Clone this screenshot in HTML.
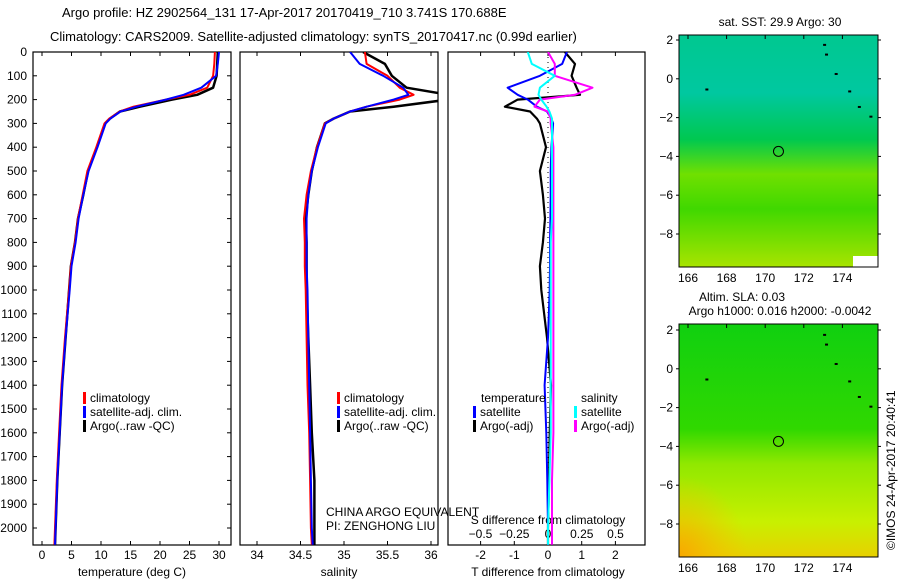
<!DOCTYPE html>
<html><head><meta charset="utf-8">
<style>
html,body{margin:0;padding:0;background:#fff;}
svg{display:block;font-family:"Liberation Sans",sans-serif;}
text{fill:#000;}
</style></head>
<body>
<svg id="chart" width="900" height="580" viewBox="0 0 900 580" xmlns="http://www.w3.org/2000/svg">
<defs>
<linearGradient id="sstGrad" x1="0" y1="0" x2="0" y2="1">
<stop offset="0" stop-color="#00c890"/><stop offset="0.25" stop-color="#00c8a0"/>
<stop offset="0.45" stop-color="#00c850"/><stop offset="0.6" stop-color="#70e000"/>
<stop offset="0.75" stop-color="#40d800"/><stop offset="1" stop-color="#a8e400"/>
</linearGradient>
<linearGradient id="slaGrad" x1="0" y1="0" x2="0" y2="1">
<stop offset="0" stop-color="#10d010"/><stop offset="0.45" stop-color="#30d800"/>
<stop offset="0.6" stop-color="#90e800"/><stop offset="0.85" stop-color="#c8f000"/>
<stop offset="1" stop-color="#e8d000"/>
</linearGradient>
<radialGradient id="slaCorner" cx="0" cy="1" r="0.35">
<stop offset="0" stop-color="#f8a800"/><stop offset="1" stop-color="#f8c000" stop-opacity="0"/>
</radialGradient>
</defs>
<text x="62" y="17" font-size="13">Argo profile: HZ 2902564_131 17-Apr-2017 20170419_710 3.741S 170.688E</text>
<text x="50" y="41" font-size="13">Climatology: CARS2009. Satellite-adjusted climatology: synTS_20170417.nc (0.99d earlier)</text>
<g id="g"></g>
</svg>
<script>
// depth levels (m)
const depths = [0,50,100,150,180,200,230,250,280,300,400,500,600,700,800,900,1000,1200,1400,1600,1800,2000,2070];
// temperature (deg C)
const tempClim = [29.3,29.2,29.0,28.0,25.0,21.0,15.5,13.2,11.4,10.6,9.2,7.7,6.9,6.1,5.6,4.9,4.6,3.9,3.3,2.9,2.5,2.2,2.1];
const tempSat  = [30.0,29.8,29.5,27.0,24.0,21.0,16.0,13.3,11.6,10.8,9.4,7.9,7.0,6.2,5.7,5.0,4.7,4.0,3.4,3.0,2.6,2.3,2.2];
const tempArgo = [29.8,29.7,29.6,29.0,26.3,22.0,16.6,13.2,11.5,10.7,9.3,7.8,7.0,6.1,5.6,4.9,4.6,4.0,3.4,3.0,2.6,2.3,2.2];
// salinity
const salClim = [35.24,35.26,35.50,35.64,35.80,35.64,35.26,35.07,34.88,34.78,34.69,34.62,34.57,34.54,34.55,34.55,34.56,34.57,34.58,34.60,34.61,34.62,34.63];
const salSat  = [35.07,35.18,35.45,35.68,35.74,35.57,35.26,35.07,34.88,34.79,34.70,34.63,34.59,34.57,34.57,34.57,34.58,34.59,34.60,34.61,34.62,34.63,34.64];
const salArgo = [35.22,35.47,35.55,35.72,36.20,36.20,35.57,35.07,34.88,34.78,34.69,34.63,34.59,34.56,34.57,34.57,34.57,34.59,34.61,34.63,34.66,34.66,34.66];
// differences from climatology
const dTSat  = [0.56,0.42,-0.24,-1.2,-0.9,-0.6,-0.33,-0.03,0.1,0.15,0.1,0.08,0.08,0.07,0.06,0.06,0.05,0.0,-0.1,-0.05,-0.02,0.0,0.0];
const dTArgo = [0.5,0.8,0.7,0.85,0.95,-0.9,-1.28,-0.53,-0.33,-0.24,-0.06,-0.24,-0.15,-0.09,-0.15,-0.24,-0.2,-0.03,0.09,0.05,0.03,0.0,0.0];
const dSSat  = [-0.15,-0.12,0.05,-0.06,-0.07,-0.05,-0.01,0.01,0.03,0.03,0.03,0.03,0.03,0.03,0.02,0.02,0.02,0.02,0.02,0.02,0.01,0.0,0.0];
const dSArgo = [0.0,0.05,0.05,0.33,0.2,-0.06,-0.1,0.0,0.02,0.02,0.04,0.04,0.04,0.04,0.04,0.04,0.04,0.04,0.04,0.04,0.03,0.03,0.03];
// ticks
const depthTicks = [0,100,200,300,400,500,600,700,800,900,1000,1100,1200,1300,1400,1500,1600,1700,1800,1900,2000];
const tempTicks = [0,5,10,15,20,25,30];
const salTicks = [34,34.5,35,35.5,36];
const salTickLabels = ["34","34.5","35","35.5","36"];
const dTTicks = [-2,-1,0,1,2];
const dSTicks = [-0.5,-0.25,0,0.25,0.5];
const dSTickLabels = ["\u22120.5","\u22120.25","0","0.25","0.5"];
const lonTicks = [166,168,170,172,174];
const latTicks = [2,0,-2,-4,-6,-8];
const argoLon = 170.688, argoLat = -3.741;

const NS="http://www.w3.org/2000/svg";
const G=document.getElementById('g');
function el(tag,attrs,parent){const e=document.createElementNS(NS,tag);for(const k in attrs)e.setAttribute(k,attrs[k]);(parent||G).appendChild(e);return e;}
function txt(s,x,y,anchor,size,parent){const t=el('text',{x:x,y:y,'text-anchor':anchor||'start','font-size':size||12},parent);t.textContent=s;return t;}

const yTop=52, yBot=545;
const yD = d => yTop + d*0.238;
const xT = t => 42 + t*5.9;
const xS = s => 257 + (s-34)*87;
const xDT = v => 548 + v*33.7;
const xDS = v => 548 + v*135;

function clipRect(id,x0,x1){const cp=el('clipPath',{id:id});el('rect',{x:x0,y:yTop,width:x1-x0,height:yBot-yTop},cp);}
clipRect('c1',33,231);clipRect('c2',240,438);clipRect('c3',448,645);

function frame(name,x0,x1){const r=el('rect',{x:x0,y:yTop,width:x1-x0,height:yBot-yTop,fill:'none',stroke:'#000','stroke-width':1.2});}
frame('temperature-panel-frame',33,231);frame('salinity-panel-frame',240,438);frame('difference-panel-frame',448,645);

depthTicks.forEach(d=>{const y=yD(d);
 el('line',{x1:33,y1:y,x2:37,y2:y,stroke:'#000'});
 el('line',{x1:227,y1:y,x2:231,y2:y,stroke:'#000'});
 const t=txt(String(d),27,y+4,'end',12);
 
 
});
function xticks(vals,labels,fx,yl,name){vals.forEach((v,i)=>{const x=fx(v);
 el('line',{x1:x,y1:yTop,x2:x,y2:yTop+4,stroke:'#000'});
 el('line',{x1:x,y1:yBot,x2:x,y2:yBot-4,stroke:'#000'});
 const t=txt(labels[i],x,yl,'middle',12);
 
 
});}
xticks(tempTicks,tempTicks.map(String),xT,559,'temperature-tick-label');
xticks(salTicks,salTickLabels,xS,559,'salinity-tick-label');
xticks(dTTicks,dTTicks.map(String),xDT,559,'t-diff-tick-label');
dSTicks.forEach((v,i)=>{const t=txt(dSTickLabels[i],xDS(v),538,'middle',12);
 
 });

let t;
t=txt('temperature (deg C)',132,576,'middle',12);
t=txt('salinity',339,576,'middle',12);
t=txt('T difference from climatology',548,576,'middle',12);
t=txt('S difference from climatology',548,524,'middle',12);

el('line',{x1:548,y1:yTop,x2:548,y2:yBot,stroke:'#000','stroke-dasharray':'1,4'});

function series(vals,fx,color,w,clip,name){
 const pts=vals.map((v,i)=>fx(v).toFixed(1)+','+yD(depths[i]).toFixed(1)).join(' ');
 const p=el('polyline',{points:pts,fill:'none',stroke:color,'stroke-width':w,'clip-path':'url(#'+clip+')','stroke-linejoin':'round'});
 
 
}
series(tempArgo,xT,'#000',2.5,'c1','temperature-argo-line');
series(tempClim,xT,'#f00',2,'c1','temperature-climatology-line');
series(tempSat,xT,'#00f',2,'c1','temperature-satellite-line');
series(salArgo,xS,'#000',2.5,'c2','salinity-argo-line');
series(salClim,xS,'#f00',2,'c2','salinity-climatology-line');
series(salSat,xS,'#00f',2,'c2','salinity-satellite-line');
series(dTArgo,xDT,'#000',2.2,'c3','t-diff-argo-line');
series(dTSat,xDT,'#00f',2,'c3','t-diff-satellite-line');
series(dSArgo,xDS,'#f0f',2,'c3','s-diff-argo-line');
series(dSSat,xDS,'#0ff',2,'c3','s-diff-satellite-line');

function legendEntry(x,y,color,label,name){
 const g=el('g',{});
 
 
 el('rect',{x:x,y:y-10,width:3,height:12,fill:color},g);
 txt(label,x+7,y,'start',12,g);
}
legendEntry(83,402,'#f00','climatology','temp-legend-climatology');
legendEntry(83,416,'#00f','satellite-adj. clim.','temp-legend-satellite');
legendEntry(83,430,'#000','Argo(..raw -QC)','temp-legend-argo');
legendEntry(337,402,'#f00','climatology','sal-legend-climatology');
legendEntry(337,416,'#00f','satellite-adj. clim.','sal-legend-satellite');
legendEntry(337,430,'#000','Argo(..raw -QC)','sal-legend-argo');
t=txt('temperature',481,402,'start',12);
t=txt('salinity',581,402,'start',12);
legendEntry(473,416,'#00f','satellite','diff-legend-t-satellite');
legendEntry(473,430,'#000','Argo(-adj)','diff-legend-t-argo');
legendEntry(574,416,'#0ff','satellite','diff-legend-s-satellite');
legendEntry(574,430,'#f0f','Argo(-adj)','diff-legend-s-argo');
t=txt('CHINA ARGO EQUIVALENT',326,516,'start',12);
t=txt('PI: ZENGHONG LIU',326,530,'start',12);

function map(name,x0,y0,x1,y1,lat2y,fill,extra){
 const lonX=l=>688+(l-166)*19.3;
 const latY=a=>lat2y+(2-a)*19.4;
 const g=el('g',{});
 
 
 el('rect',{x:x0,y:y0,width:x1-x0,height:y1-y0,fill:fill},g);
 if(extra)extra(g,x0,y0,x1,y1);
 el('rect',{x:x0,y:y0,width:x1-x0,height:y1-y0,fill:'none',stroke:'#000','stroke-width':1},g);
 lonTicks.forEach(l=>{const x=lonX(l);el('line',{x1:x,y1:y0,x2:x,y2:y0+4,stroke:'#000'},g);
  const tl=txt(String(l),x,y1+15,'middle',12,g);
  
  });
 latTicks.forEach(a=>{const y=latY(a);el('line',{x1:x0,y1:y,x2:x0-3,y2:y,stroke:'#000'},g);el('line',{x1:x1,y1:y,x2:x1+3,y2:y,stroke:'#000'},g);
  const tl=txt(a<0?'\u2212'+(-a):String(a),x0-6,y+4,'end',12,g);
  
  });
 const c=el('circle',{cx:lonX(argoLon),cy:latY(argoLat),r:5,fill:'none',stroke:'#000'},g);
 
 
 [[173,1.8],[173.1,1.3],[173.6,0.3],[174.3,-0.6],[174.8,-1.4],[175.4,-1.9],[166.9,-0.5]].forEach(p=>el('rect',{x:lonX(p[0]),y:latY(p[1]),width:3,height:2,fill:'#000'},g));
}
map('sst-map',679,35,878,267,40,'url(#sstGrad)',(g,x0,y0,x1,y1)=>{
 el('rect',{x:853,y:256,width:25,height:11,fill:'#fff'},g);
});
t=txt('sat. SST: 29.9 Argo: 30',780,26,'middle',12);
map('sla-map',679,324,878,557,330,'url(#slaGrad)',(g,x0,y0,x1,y1)=>{
 el('rect',{x:x0,y:y0,width:x1-x0,height:y1-y0,fill:'url(#slaCorner)'},g);
});
t=txt('Altim. SLA: 0.03',742,301,'middle',12);
t=txt('Argo h1000: 0.016 h2000: -0.0042',780,315,'middle',12);
t=txt('\u00a9IMOS 24-Apr-2017 20:40:41',0,0,'start',12);
t.setAttribute('transform','translate(895,550) rotate(-90)');

</script>
</body></html>
